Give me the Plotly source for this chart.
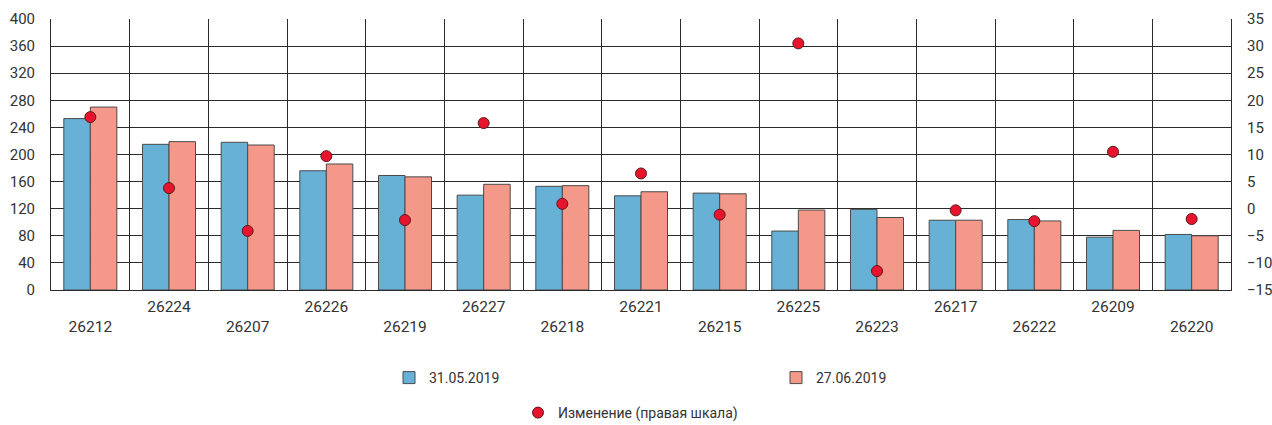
import plotly.graph_objects as go

categories = ["26212", "26224", "26207", "26226", "26219", "26227", "26218", "26221",
              "26215", "26225", "26223", "26217", "26222", "26209", "26220"]
may_31 = [253, 215, 218, 176, 169, 140, 153, 139, 143, 87, 119, 103, 104, 78, 82]
jun_27 = [270, 219, 214, 186, 167, 156, 154, 145, 142, 118, 107, 103, 102, 88, 80]
change = [16.9, 3.8, -4.1, 9.7, -2.1, 15.8, 0.9, 6.5, -1.1, 30.5, -11.5, -0.3, -2.3, 10.5, -1.9]

left_ticks = list(range(0, 401, 40))
right_ticks = list(range(-15, 36, 5))

FONT = "Roboto, Liberation Sans, sans-serif"
TXT = "#333333"
GRID = "#2a2a2a"

idx = list(range(len(categories)))
ticktext = [("<br>" + c) if i % 2 == 0 else c for i, c in enumerate(categories)]

fig = go.Figure()
fig.add_trace(go.Bar(x=idx, y=may_31, name="31.05.2019",
                     marker=dict(color="#67B1D7", line=dict(color="#4a4a4a", width=1)),
                     legend="legend"))
fig.add_trace(go.Bar(x=idx, y=jun_27, name="27.06.2019",
                     marker=dict(color="#F4988A", line=dict(color="#4a4a4a", width=1)),
                     legend="legend"))
fig.add_trace(go.Scatter(x=idx, y=change, name="Изменение (правая шкала)", mode="markers",
                         yaxis="y2",
                         marker=dict(color="#E8142E", size=11, line=dict(color="#5a1a1a", width=1)),
                         legend="legend2"))

fig.update_layout(
    width=1272, height=425,
    margin=dict(l=51, r=41, t=19, b=135, autoexpand=False),
    paper_bgcolor="white", plot_bgcolor="white",
    barmode="group", bargap=0.326, bargroupgap=0,
    font=dict(family=FONT, size=15, color=TXT),
    xaxis=dict(range=[-0.5, len(categories) - 0.5], tickmode="array", tickvals=idx,
               ticktext=ticktext, showgrid=False, zeroline=False, automargin=False,
               showline=True, linecolor=GRID, linewidth=1, ticks="",
               ticklabelstandoff=2,
               tickfont=dict(size=15.5, family=FONT, color=TXT),
               minor=dict(tickmode="array",
                          tickvals=[i + 0.5 for i in idx[:-1]],
                          showgrid=True, gridcolor=GRID, gridwidth=1, ticks="")),
    yaxis=dict(range=[0, 400], tickmode="array", tickvals=left_ticks, automargin=False,
               showgrid=True, gridcolor=GRID, gridwidth=1, zeroline=False,
               showline=True, linecolor=GRID, linewidth=1, ticks="",
               ticklabelstandoff=12, tickfont=dict(size=15, family=FONT, color=TXT)),
    yaxis2=dict(range=[-15, 35], tickmode="array", tickvals=right_ticks, automargin=False,
                overlaying="y", side="right", showgrid=False, zeroline=False,
                showline=True, linecolor=GRID, linewidth=1, ticks="",
                ticklabelstandoff=12, tickfont=dict(size=15, family=FONT, color=TXT)),
    legend=dict(orientation="h", xref="container", yref="container",
                x=389 / 1272, y=1 - 378 / 425, xanchor="left", yanchor="middle",
                entrywidth=342, entrywidthmode="pixels",
                font=dict(size=14, family=FONT, color=TXT), bgcolor="rgba(0,0,0,0)"),
    legend2=dict(orientation="h", xref="container", yref="container",
                 x=518 / 1272, y=1 - 413 / 425, xanchor="left", yanchor="middle",
                 font=dict(size=14, family=FONT, color=TXT), bgcolor="rgba(0,0,0,0)"),
)

fig.write_html("out.html", config={"displayModeBar": False},
               post_script="document.body.style.margin='0px';document.body.style.overflow='hidden';")
